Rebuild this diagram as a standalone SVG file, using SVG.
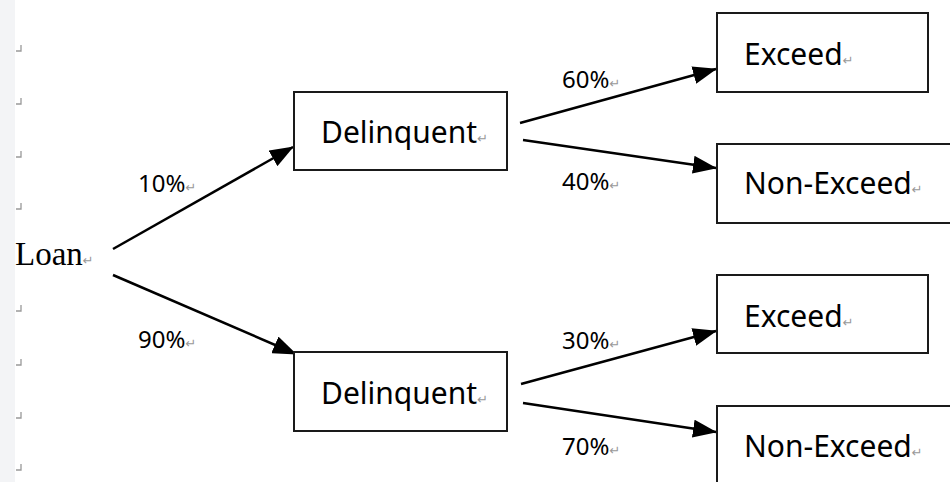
<svg xmlns="http://www.w3.org/2000/svg" width="950" height="482" viewBox="0 0 950 482">
<defs>
<marker id="ah" markerUnits="userSpaceOnUse" markerWidth="24" markerHeight="18" refX="23" refY="9" orient="auto">
<path d="M0,0 L24,9 L0,18 Z" fill="#000"/>
</marker>
<style>
.box{fill:#fff;stroke:#1a1a1a;stroke-width:2}
.lbl{font-family:"Noto Sans","Open Sans",sans-serif;font-size:30px;fill:#000}
.pct{font-family:"Noto Sans","Open Sans",sans-serif;font-size:24px;fill:#000}
.ret{font-family:"DejaVu Sans",sans-serif;font-size:13px;fill:#999}
.edge{stroke:#000;stroke-width:2.5;fill:none;marker-end:url(#ah)}
.pm{stroke:#999;stroke-width:1.3;fill:none}
</style>
</defs>
<rect x="0" y="0" width="950" height="482" fill="#fff"/>
<rect x="0" y="0" width="15" height="482" fill="#f3f4f6"/>
<g id="para-marks">
<polyline class="pm" points="16,51 21,51 21,45"/>
<polyline class="pm" points="16,104 21,104 21,98"/>
<polyline class="pm" points="16,157 21,157 21,151"/>
<polyline class="pm" points="16,209 21,209 21,203"/>
<polyline class="pm" points="16,311 21,311 21,305"/>
<polyline class="pm" points="16,365 21,365 21,359"/>
<polyline class="pm" points="16,418 21,418 21,412"/>
<polyline class="pm" points="16,470 21,470 21,464"/>
</g>
<g id="connectors">
<line class="edge" x1="113" y1="249" x2="293" y2="147"/>
<line class="edge" x1="113" y1="275" x2="296" y2="354"/>
<line class="edge" x1="520" y1="123" x2="716" y2="69"/>
<line class="edge" x1="523" y1="140" x2="716" y2="168"/>
<line class="edge" x1="521" y1="384" x2="716" y2="331"/>
<line class="edge" x1="523" y1="403" x2="716" y2="432"/>
</g>
<g id="labels">
<text class="pct" x="138" y="192">10%<tspan class="ret">↵</tspan></text>
<text class="pct" x="138" y="348">90%<tspan class="ret">↵</tspan></text>
<text class="pct" x="562" y="88">60%<tspan class="ret">↵</tspan></text>
<text class="pct" x="562" y="190">40%<tspan class="ret">↵</tspan></text>
<text class="pct" x="562" y="349">30%<tspan class="ret">↵</tspan></text>
<text class="pct" x="562" y="455">70%<tspan class="ret">↵</tspan></text>
</g>
<g id="loan">
<text x="15" y="265" font-family="Liberation Serif,serif" font-size="33" fill="#000">Loan<tspan class="ret">↵</tspan></text>
</g>
<g id="delinquent-top">
<rect class="box" x="294" y="92" width="213" height="78"/>
<text class="lbl" x="321" y="143">Delinquent<tspan class="ret">↵</tspan></text>
</g>
<g id="delinquent-bottom">
<rect class="box" x="294" y="352" width="213" height="79"/>
<text class="lbl" x="321" y="404">Delinquent<tspan class="ret">↵</tspan></text>
</g>
<g id="exceed-top">
<rect class="box" x="717" y="13" width="211" height="79"/>
<text class="lbl" x="744" y="65">Exceed<tspan class="ret">↵</tspan></text>
</g>
<g id="nonexceed-top">
<rect class="box" x="717" y="144" width="240" height="79"/>
<text class="lbl" x="744" y="194">Non-Exceed<tspan class="ret">↵</tspan></text>
</g>
<g id="exceed-bottom">
<rect class="box" x="717" y="275" width="211" height="78"/>
<text class="lbl" x="744" y="327">Exceed<tspan class="ret">↵</tspan></text>
</g>
<g id="nonexceed-bottom">
<rect class="box" x="717" y="406" width="240" height="90"/>
<text class="lbl" x="744" y="457">Non-Exceed<tspan class="ret">↵</tspan></text>
</g>
</svg>
